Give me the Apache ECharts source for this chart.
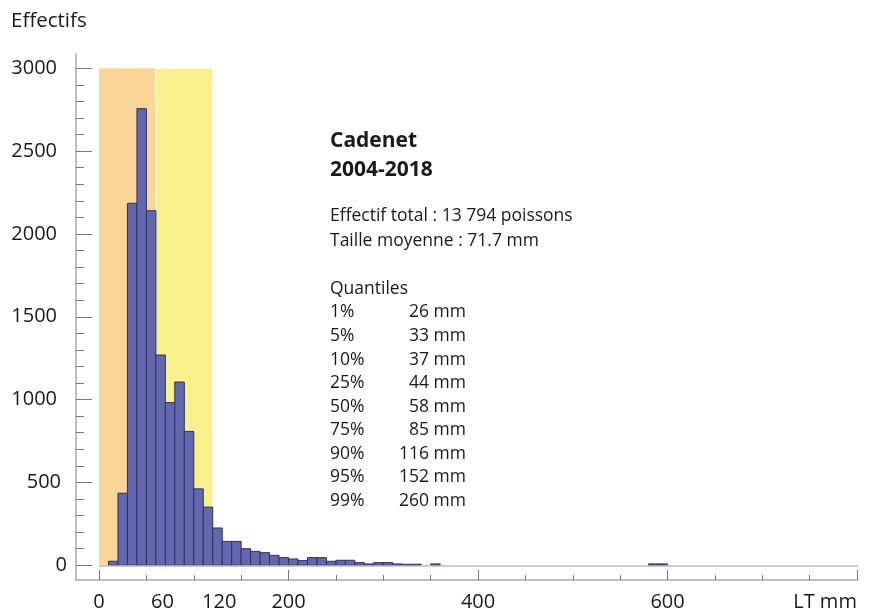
<!DOCTYPE html>
<html>
<head>
<meta charset="utf-8">
<script src="https://cdn.jsdelivr.net/npm/echarts@6/dist/echarts.min.js"></script>
<style>
html,body{margin:0;padding:0;background:#fff;}
#chart{width:869px;height:612px;}
</style>
</head>
<body>
<div id="chart"></div>
<script>
// ---- data ----
const binWidth = 10;
const binStarts = [10,20,30,40,50,60,70,80,90,100,110,120,130,140,150,160,170,180,190,200,210,220,230,240,250,260,270,280,290,300,310,320,330,350,580,590];
const counts    = [24,435,2185,2756,2140,1269,982,1106,808,461,351,225,144,144,100,84,76,60,46,38,28,46,46,24,30,30,16,8,16,16,8,6,6,8,8,8];
const bandOrange = [0, 60];
const bandYellow = [60, 120];
const bandTop = 3000;
const yTickValues = [0,500,1000,1500,2000,2500,3000];
const yMinorTicks = [100,200,300,400,600,700,800,900,1100,1200,1300,1400,1600,1700,1800,1900,2100,2200,2300,2400,2600,2700,2800,2900];
const xMajorTicks = [0,200,400,600,800];
const xMinorTicks = [50,100,150,250,300,350,450,500,550,650,700,750];
const xLabelValues = [0,60,120,200,400,600,800];
const xLabelTexts  = ['0','60','120','200','400','600','LT mm'];
const yAxisTitle = 'Effectifs';
const titleLines = ['Cadenet','2004-2018'];
const infoLines = ['Effectif total : 13 794 poissons','Taille moyenne : 71.7 mm'];
const quantileHeader = 'Quantiles';
const quantileLabels = ['1%','5%','10%','25%','50%','75%','90%','95%','99%'];
const quantileValues = ['26 mm','33 mm','37 mm','44 mm','58 mm','85 mm','116 mm','152 mm','260 mm'];

// ---- chart ----
const FONT = '"Open Sans", "DejaVu Sans", sans-serif';
const TXT = '#1a1a1a';
const chart = echarts.init(document.getElementById('chart'), null, {renderer:'canvas'});

const X_MIN = -24.3, X_MAX = 801, Y_MIN = -89, Y_MAX = 3086;

const baseAxisX = {
  type:'value', min:X_MIN, max:X_MAX, position:'bottom',
  splitLine:{show:false},
  axisLine:{onZero:false, lineStyle:{color:'#a9a9a9', width:1.5}}
};
const baseAxisY = {
  type:'value', min:Y_MIN, max:Y_MAX, position:'left',
  splitLine:{show:false},
  axisLine:{onZero:false, lineStyle:{color:'#a9a9a9', width:1.5}}
};

const xLabelRich = {
  n:{fontFamily:FONT, fontSize:20, color:TXT},
  s:{fontFamily:FONT, fontSize:20, color:TXT, padding:[0,0,0,13]},
  e:{fontFamily:FONT, fontSize:20, color:TXT, padding:[0,64,0,0]}
};
const yLabelRich = {
  a:{fontFamily:FONT, fontSize:20, color:TXT, padding:[0,10,0,0]},
  b:{fontFamily:FONT, fontSize:20, color:TXT, padding:[0,6,0,0]},
  c:{fontFamily:FONT, fontSize:20, color:TXT}
};

const graphics = [];
function addText(t, x, y, size, weight, align){
  graphics.push({type:'text', silent:true, style:{
    text:t, x:x, y:y, fill:TXT,
    font: (weight||'normal') + ' ' + size + 'px ' + FONT,
    align: align||'left', verticalAlign:'middle',
    textAlign: align||'left', textVerticalAlign:'middle'
  }});
}
addText(yAxisTitle, 11, 21, 20.5);
addText(titleLines[0], 330, 141, 21, 'bold');
addText(titleLines[1], 330, 170, 21, 'bold');
addText(infoLines[0], 330, 216, 17.5);
addText(infoLines[1], 330, 241, 17.5);
addText(quantileHeader, 330, 289, 17.5);
quantileLabels.forEach((q,i)=>{
  const y = 312.5 + i*23.55;
  addText(q, 330, y, 17.5);
  addText(quantileValues[i], 466, y, 17.5, 'normal', 'right');
});

chart.setOption({
  animation:false,
  backgroundColor:'#ffffff',
  grid:{left:76, right:11, top:54, bottom:30.5, containLabel:false},
  xAxis:[
    Object.assign({}, baseAxisX, {
      axisTick:{show:true, inside:true, length:10, customValues:xMajorTicks, lineStyle:{color:'#7a7a7a', width:1}},
      axisLabel:{show:true, margin:12, customValues:xLabelValues,
        formatter:function(v){
          const i = xLabelValues.indexOf(v);
          const t = i>=0 ? xLabelTexts[i] : '';
          if (t==='60' || t==='120') return '{s|'+t+'}';
          if (t==='LT mm') return '{e|'+t+'}';
          return '{n|'+t+'}';
        }, rich:xLabelRich}
    }),
    Object.assign({}, baseAxisX, {
      axisLine:{show:false, onZero:false},
      axisTick:{show:true, inside:true, length:5, customValues:xMinorTicks, lineStyle:{color:'#7a7a7a', width:1}},
      axisLabel:{show:false}
    })
  ],
  yAxis:[
    Object.assign({}, baseAxisY, {
      axisTick:{show:true, inside:true, length:16, customValues:yTickValues, lineStyle:{color:'#7a7a7a', width:1}},
      axisLabel:{show:true, margin:9, align:'right', customValues:yTickValues,
        formatter:function(v){
          const s = String(v);
          if (s.length>=4) return '{a|'+s+'}';
          if (s.length===3) return '{b|'+s+'}';
          return '{c|'+s+'}';
        }, rich:yLabelRich}
    }),
    Object.assign({}, baseAxisY, {
      axisLine:{show:false, onZero:false},
      axisTick:{show:true, inside:true, length:8, customValues:yMinorTicks, lineStyle:{color:'#7a7a7a', width:1}},
      axisLabel:{show:false}
    })
  ],
  graphic:{elements:graphics},
  series:[
    {
      type:'line', data:[], xAxisIndex:0, yAxisIndex:0, z:1, silent:true,
      markArea:{silent:true, data:[
        [{xAxis:bandOrange[0], yAxis:0, itemStyle:{color:'#f9d697'}},{xAxis:bandOrange[1], yAxis:bandTop}],
        [{xAxis:bandYellow[0], yAxis:0, itemStyle:{color:'#f8f08a', borderColor:'#ffffff', borderWidth:1}},{xAxis:bandYellow[1], yAxis:bandTop}]
      ]},
      markLine:{silent:true, symbol:'none', label:{show:false},
        lineStyle:{color:'#bdbdbd', width:1.5, type:'solid'},
        data:[[{coord:[0,0]},{coord:[X_MAX,0]}]]}
    },
    {
      type:'custom', xAxisIndex:0, yAxisIndex:0, z:3,
      data: binStarts.map((s,i)=>[s,counts[i]]),
      renderItem:function(params, api){
        const x0 = api.value(0), c = api.value(1);
        const p0 = api.coord([x0, 0]);
        const p1 = api.coord([x0 + binWidth, c]);
        return {type:'rect',
          shape:{x:p0[0], y:p1[1], width:p1[0]-p0[0], height:p0[1]-p1[1]},
          style:{fill:'#6367ae', stroke:'#2f3160', lineWidth:1}};
      }
    }
  ]
});
</script>
</body>
</html>
